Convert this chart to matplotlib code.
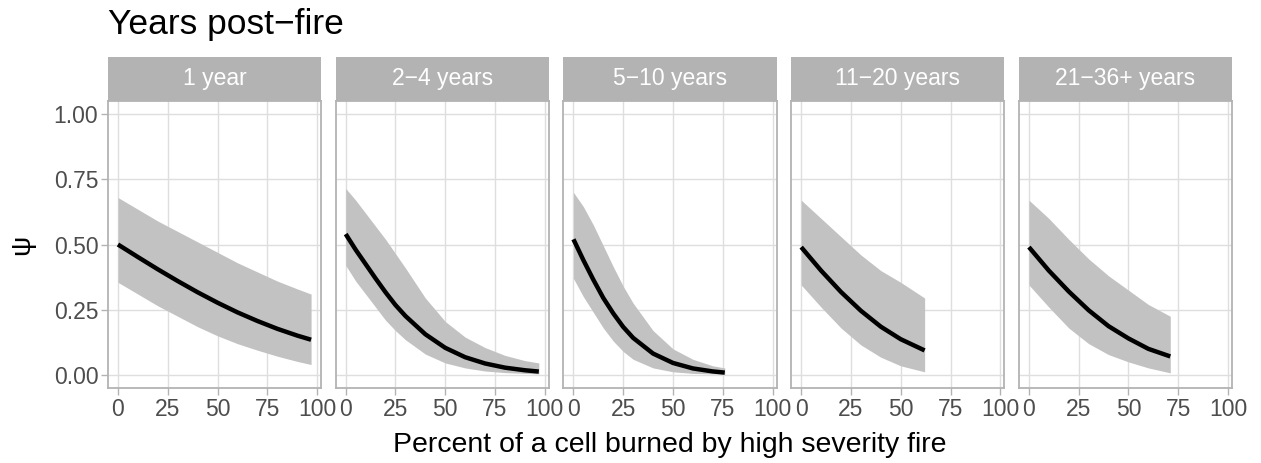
import matplotlib
matplotlib.use("Agg")
import matplotlib.pyplot as plt
from matplotlib.patches import Rectangle

plt.rcParams["font.family"] = ["Liberation Sans", "DejaVu Sans"]

# facet labels
panels = ["1 year", "2\u22124 years", "5\u221210 years", "11\u221220 years", "21\u221236+ years"]

# percent burned (x) per panel
x_1 = [0, 10, 20, 30, 40, 50, 60, 70, 80, 90, 97]
x_2 = [0, 5, 10, 15, 20, 25, 30, 40, 50, 60, 70, 80, 90, 97]
x_3 = [0, 5, 10, 15, 20, 25, 30, 40, 50, 60, 70, 76]
x_4 = [0, 10, 20, 30, 40, 50, 62]
x_5 = [0, 10, 20, 30, 40, 50, 60, 71]

# predicted occupancy (psi) and its interval
psi_1 = [0.50, 0.452, 0.405, 0.36, 0.317, 0.277, 0.24, 0.207, 0.177, 0.151, 0.135]
hi_1 = [0.68, 0.635, 0.59, 0.55, 0.51, 0.47, 0.43, 0.395, 0.36, 0.33, 0.31]
lo_1 = [0.355, 0.31, 0.265, 0.225, 0.185, 0.15, 0.12, 0.095, 0.072, 0.052, 0.04]

psi_2 = [0.54, 0.48, 0.425, 0.37, 0.317, 0.268, 0.226, 0.156, 0.104, 0.068, 0.044, 0.028, 0.018, 0.013]
hi_2 = [0.715, 0.67, 0.62, 0.57, 0.52, 0.465, 0.41, 0.295, 0.205, 0.145, 0.105, 0.075, 0.055, 0.046]
lo_2 = [0.42, 0.36, 0.31, 0.26, 0.21, 0.17, 0.135, 0.08, 0.046, 0.027, 0.015, 0.009, 0.006, 0.004]

psi_3 = [0.52, 0.44, 0.365, 0.295, 0.236, 0.184, 0.142, 0.082, 0.046, 0.025, 0.0135, 0.009]
hi_3 = [0.70, 0.645, 0.575, 0.495, 0.415, 0.34, 0.275, 0.17, 0.10, 0.06, 0.035, 0.027]
lo_3 = [0.37, 0.30, 0.24, 0.18, 0.13, 0.09, 0.06, 0.027, 0.012, 0.006, 0.004, 0.003]

psi_4 = [0.49, 0.40, 0.318, 0.246, 0.185, 0.137, 0.094]
hi_4 = [0.67, 0.60, 0.53, 0.46, 0.40, 0.355, 0.295]
lo_4 = [0.345, 0.26, 0.18, 0.115, 0.068, 0.035, 0.012]

psi_5 = [0.49, 0.40, 0.32, 0.248, 0.187, 0.14, 0.10, 0.071]
hi_5 = [0.67, 0.60, 0.52, 0.445, 0.38, 0.325, 0.27, 0.225]
lo_5 = [0.345, 0.26, 0.18, 0.12, 0.078, 0.05, 0.027, 0.008]

xs = [x_1, x_2, x_3, x_4, x_5]
psis = [psi_1, psi_2, psi_3, psi_4, psi_5]
his = [hi_1, hi_2, hi_3, hi_4, hi_5]
los = [lo_1, lo_2, lo_3, lo_4, lo_5]

x_ticks = [0, 25, 50, 75, 100]
y_ticks = [0.00, 0.25, 0.50, 0.75, 1.00]

W, H = 1261, 463
fig, axes = plt.subplots(1, 5, figsize=(W / 100, H / 100), dpi=100, sharey=True)
fig.subplots_adjust(left=108 / W, right=1232 / W, top=1 - 101 / H, bottom=1 - 388 / H,
                    wspace=0.069)

grid_c = "#DEDEDE"
frame_c = "#B3B3B3"
strip_h = 44 / 287

for i, ax in enumerate(axes):
    ax.fill_between(xs[i], los[i], his[i], color="#C2C2C2", lw=0, zorder=2)
    ax.plot(xs[i], psis[i], color="black", lw=3.2, solid_capstyle="butt",
            solid_joinstyle="round", zorder=3)
    ax.set_xlim(-5, 102)
    ax.set_ylim(-0.05, 1.05)
    ax.set_xticks(x_ticks)
    ax.set_xticklabels([str(t) for t in x_ticks])
    ax.set_yticks(y_ticks)
    ax.set_yticklabels([f"{t:.2f}" for t in y_ticks])
    ax.grid(True, color=grid_c, lw=1.0, zorder=0)
    ax.set_axisbelow(True)
    for s in ax.spines.values():
        s.set_color(frame_c)
        s.set_linewidth(1.3)
    ax.tick_params(axis="both", colors=frame_c, labelcolor="#4D4D4D",
                   labelsize=16.5, length=5, width=1.0, pad=2)
    if i > 0:
        ax.tick_params(axis="y", left=False, labelleft=False)
    # facet strip
    ax.add_patch(Rectangle((0, 1), 1, strip_h, transform=ax.transAxes,
                           facecolor=frame_c, edgecolor="none", clip_on=False))
    ax.text(0.5, 1 + strip_h / 2, panels[i], transform=ax.transAxes,
            ha="center", va="center", color="white", fontsize=16.5)

fig.text(108 / W, 1 - 34 / H, "Years post\u2212fire", fontsize=25.5, ha="left",
         va="baseline")
fig.text(670 / W, 1 - 452 / H, "Percent of a cell burned by high severity fire",
         fontsize=20.5, ha="center", va="baseline")
fig.text(22 / W, 1 - 245 / H, "\u03c8", fontsize=20.5, rotation=90,
         ha="center", va="center")

plt.savefig("out.png", dpi=100)
plt.close()
